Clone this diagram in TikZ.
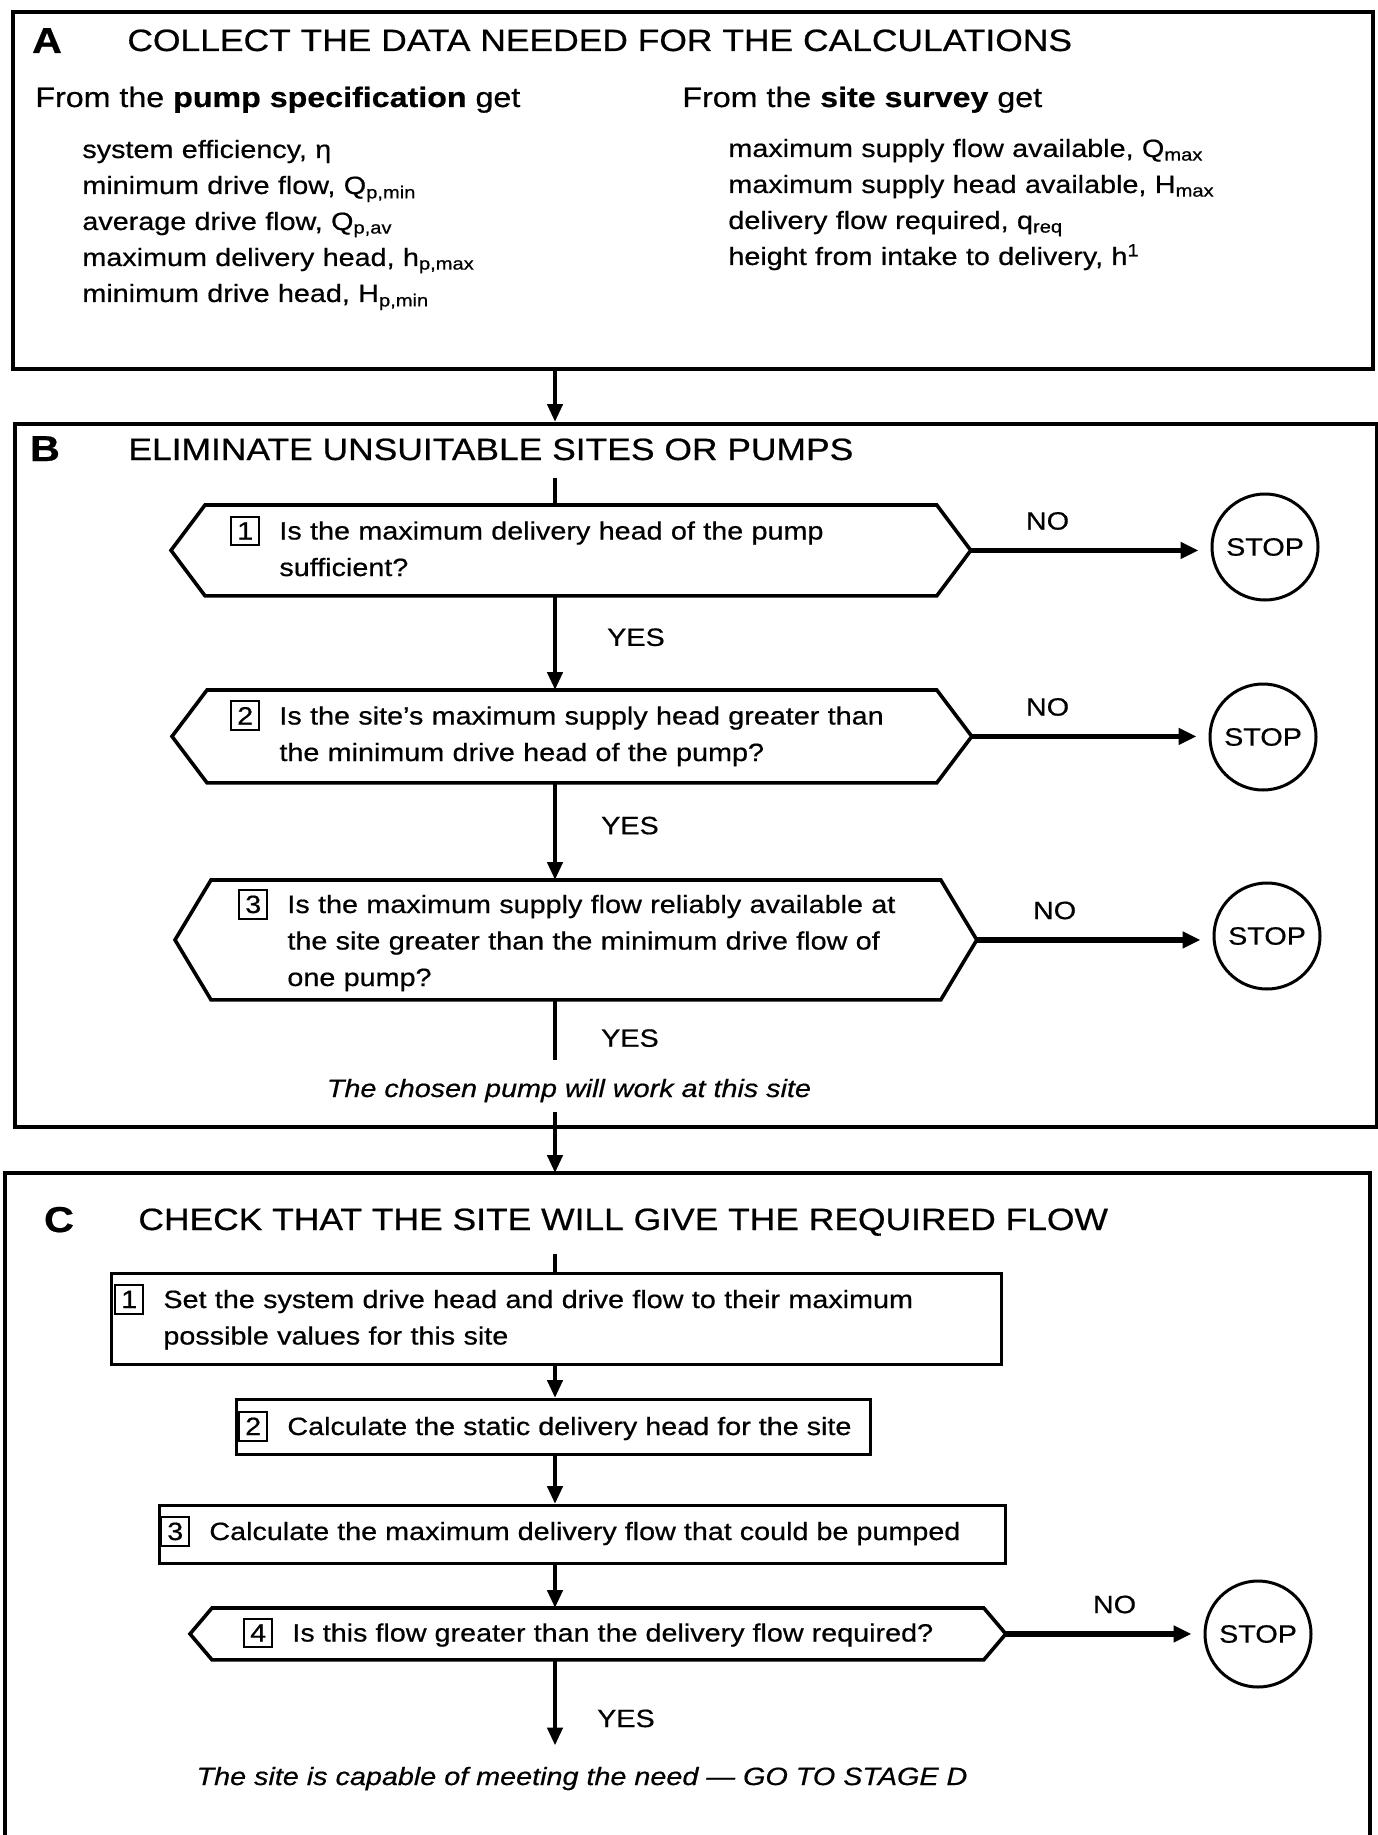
\documentclass[tikz,border=0pt]{standalone}
\usepackage{fontspec}
\setmainfont{Liberation Sans}[FakeStretch=1.15, FakeBold=0.6]
\usepackage{tikz}
\usetikzlibrary{positioning,arrows.meta}
\newcommand{\fBody}{\fontsize{12.5}{18.25}\selectfont}
\newcommand{\fList}{\fontsize{12.5}{18}\selectfont}
\newcommand{\fHead}{\fontsize{15.4}{18}\selectfont}
\newcommand{\fFrom}{\fontsize{14}{17}\selectfont}
\newcommand{\fTag}{\fontsize{18}{20}\selectfont\bfseries}
\setlength{\fboxsep}{2.4pt}
\setlength{\fboxrule}{1pt}
\newcommand{\stepno}[1]{\makebox[24.5pt][l]{\fbox{#1}}}
\newcommand{\hangin}{\hspace*{24.5pt}}
% outline of a question box, pointed at both ends
\newcommand{\hexframe}[2]{%
  \draw[hexline] (#1.north west) -- (#1.north east) -- ([xshift=#2]#1.east) coordinate (#1-tip)
    -- (#1.south east) -- (#1.south west) -- ([xshift=-#2]#1.west) -- cycle;}
\tikzset{
  frame/.style={draw, line width=1.8pt, inner sep=0pt, anchor=north west},
  stepbox/.style={draw, line width=1.5pt, inner sep=0pt, anchor=north west},
  qbox/.style={inner sep=0pt, anchor=north west},
  hexline/.style={line width=1.8pt},
  stopc/.style={circle, draw, line width=1.5pt, minimum size=53pt, inner sep=0pt, font=\fBody},
  txt/.style={inner sep=0pt, anchor=base west, align=left, font=\fBody},
  head/.style={inner sep=0pt, anchor=base west, font=\fHead},
  fromtxt/.style={inner sep=0pt, anchor=base west, font=\fFrom},
  tag/.style={inner sep=0pt, anchor=base, font=\fTag},
  lbl/.style={inner sep=0pt, font=\fBody},
  note/.style={inner sep=4.5pt, anchor=base, font=\fBody\itshape},
  flow/.style={line width=2.2pt},
  ar/.style={flow, -{Triangle[length=9pt, width=7.5pt]}},
  arno/.style={line width=2.6pt, -{Triangle[length=9pt, width=8pt]}, shorten >=6pt},
}

\begin{document}
\begin{tikzpicture}[x=0.5pt, y=-0.5pt]
  \useasboundingbox (0,0) rectangle (1377,1835);
  \coordinate (spine) at (555,0);

  % A: collect the data
  \node[frame, minimum width=680pt, minimum height=178.5pt] (boxA) at (11,10) {};
  \node[tag] (tagA) at (47,53) {A};
  \node[head] (headA) at (127,51) {COLLECT THE DATA NEEDED FOR THE CALCULATIONS};
  \node[fromtxt] (fromPump) at (35,107) {From the \textbf{pump specification} get};
  \node[fromtxt] (fromSite) at (682,107) {From the \textbf{site survey} get};
  \node[txt, font=\fList, text width=300pt] (itemsPump) at (82,158)
    {system efficiency, η\\
     minimum drive flow, Q\textsubscript{p,min}\\
     average drive flow, Q\textsubscript{p,av}\\
     maximum delivery head, h\textsubscript{p,max}\\
     minimum drive head, H\textsubscript{p,min}};
  \node[txt, font=\fList, text width=300pt] (itemsSite) at (728,157)
    {maximum supply flow available, Q\textsubscript{max}\\
     maximum supply head available, H\textsubscript{max}\\
     delivery flow required, q\textsubscript{req}\\
     height from intake to delivery, h\textsuperscript{1}};

  % B: eliminate sites or pumps
  \node[frame, minimum width=681pt, minimum height=351.5pt] (boxB) at (13,422) {};
  \node[tag] (tagB) at (45,461) {B};
  \node[head] (headB) at (128,460) {ELIMINATE UNSUITABLE SITES OR PUMPS};
  \node[qbox, minimum width=365.5pt, minimum height=45pt] (hexOne) at (205,505) {};
  \node[qbox, minimum width=364.5pt, minimum height=46pt] (hexTwo) at (207,690) {};
  \node[qbox, minimum width=364.5pt, minimum height=59.5pt] (hexThree) at (211,880) {};
  \hexframe{hexOne}{17pt}
  \hexframe{hexTwo}{17.5pt}
  \hexframe{hexThree}{18pt}
  \node[txt, text width=340pt] (qOne) at (230,539.5)
    {\stepno{1}Is the maximum delivery head of the pump\\ \hangin sufficient?};
  \node[txt, text width=340pt] (qTwo) at (230,724.5)
    {\stepno{2}Is the site’s maximum supply head greater than\\ \hangin the minimum drive head of the pump?};
  \node[txt, text width=340pt] (qThree) at (238,913)
    {\stepno{3}Is the maximum supply flow reliably available at\\ \hangin the site greater than the minimum drive flow of\\ \hangin one pump?};
  \node[stopc] (stopOne) at (1265,547) {STOP};
  \node[stopc] (stopTwo) at (1263,737) {STOP};
  \node[stopc] (stopThree) at (1267,936) {STOP};
  \node[note] (pumpOk) at (569,1097) {The chosen pump will work at this site};

  % C: check the flow
  \draw[frame] (5,1835) |- (1370,1173) -- (1370,1835);
  \coordinate (cTop) at (555,1173);
  \node[tag] (tagC) at (59,1232) {C};
  \node[head] (headC) at (138,1230) {CHECK THAT THE SITE WILL GIVE THE REQUIRED FLOW};
  \node[stepbox, minimum width=445pt, minimum height=45.5pt] (stepOne) at (110,1272) {};
  \node[stepbox, minimum width=317pt, minimum height=27.5pt] (stepTwo) at (235,1398) {};
  \node[stepbox, minimum width=423pt, minimum height=29pt] (stepThree) at (158,1504) {};
  \node[qbox, minimum width=385.5pt, minimum height=25.5pt] (hexFour) at (212,1608) {};
  \hexframe{hexFour}{11pt}
  \node[txt, text width=420pt] (sOne) at (114,1308)
    {\stepno{1}Set the system drive head and drive flow to their maximum\\ \hangin possible values for this site};
  \node[txt] (sTwo) at (238,1435) {\stepno{2}Calculate the static delivery head for the site};
  \node[txt] (sThree) at (160,1540) {\stepno{3}Calculate the maximum delivery flow that could be pumped};
  \node[txt] (qFour) at (243,1641.5) {\stepno{4}Is this flow greater than the delivery flow required?};
  \node[stopc] (stopFour) at (1258,1634) {STOP};
  \node[note] (siteOk) at (582,1785) {The site is capable of meeting the need — GO TO STAGE D};

  % main line
  \draw[ar] (boxA.south -| spine) -- (boxB.north -| spine);
  \draw[flow, shorten <=8.5pt] (headB.south -| spine) -- (hexOne.north -| spine);
  \draw[ar] (hexOne.south -| spine) -- node[lbl, pos=.44, right=25pt] (yesOne) {YES} (hexTwo.north -| spine);
  \draw[ar] (hexTwo.south -| spine) -- node[lbl, pos=.44, right=22pt] (yesTwo) {YES} (hexThree.north -| spine);
  \draw[flow, shorten >=4.5pt] (hexThree.south -| spine) -- node[lbl, pos=.55, right=22pt] (yesThree) {YES} (pumpOk.north -| spine);
  \draw[ar] (pumpOk.south -| spine) -- (cTop);
  \draw[flow, shorten <=9pt] (headC.south -| spine) -- (stepOne.north -| spine);
  \draw[ar] (stepOne.south -| spine) -- (stepTwo.north -| spine);
  \draw[ar] (stepTwo.south -| spine) -- (stepThree.north -| spine);
  \draw[ar] (stepThree.south -| spine) -- (hexFour.north -| spine);
  \draw[ar, shorten >=6pt] (hexFour.south -| spine) -- node[lbl, pos=.6, right=20pt] (yesFour) {YES} (siteOk.north -| spine);

  % NO branches
  \foreach \q/\s/\p in {hexOne/stopOne/.32, hexTwo/stopTwo/.32, hexThree/stopThree/.33, hexFour/stopFour/.55}
    \draw[arno] (\q-tip) -- (\q-tip -| \s.west) node[lbl, pos=\p, above=9pt] (\s-no) {NO};
\end{tikzpicture}
\end{document}
